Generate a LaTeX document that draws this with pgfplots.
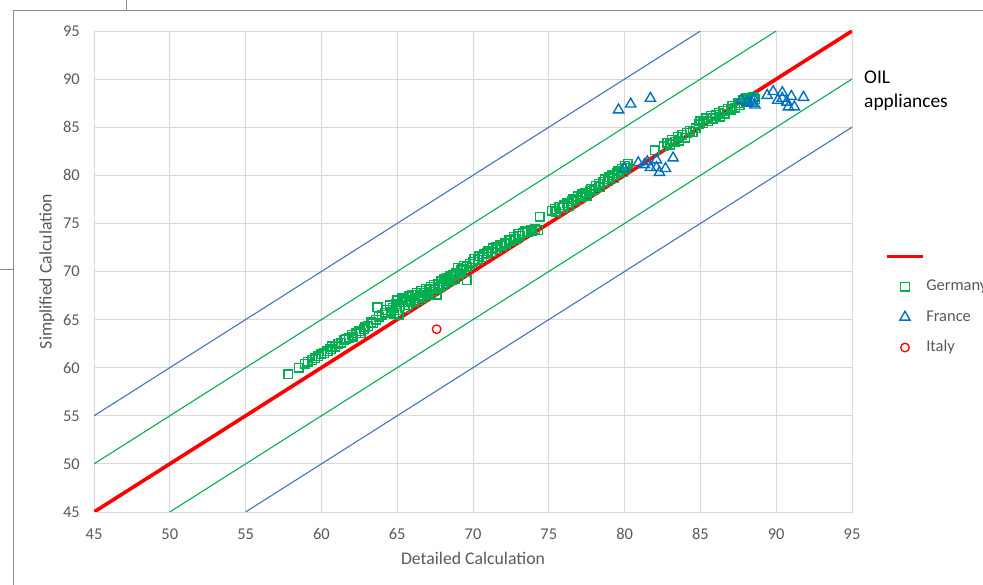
\documentclass[border=0pt]{standalone}
\usepackage{pgfplots}
\pgfplotsset{compat=1.18}
\usepackage{fontspec}
\setmainfont{Carlito}
\definecolor{gridc}{HTML}{D9D9D9}
\definecolor{txt}{HTML}{595959}
\definecolor{xlgreen}{HTML}{00B050}
\definecolor{xlblue}{HTML}{4472C4}
\definecolor{tri}{HTML}{0070C0}
\definecolor{framec}{HTML}{8C8C8C}
\pgfplotsset{
  linelegend/.style={legend image code/.code={\draw[##1] (0bp,0bp) -- (36bp,0bp);}},
  marklegend/.style={legend image code/.code={\draw[mark repeat=2,mark phase=2,##1] plot coordinates {(0bp,0bp) (18bp,0bp) (36bp,0bp)};}},
}
\begin{document}
\begin{tikzpicture}[x=1bp,y=1bp]
\useasboundingbox (0,0) rectangle (983,585);
\draw[framec, line width=1bp] (13,0) -- (13,574) -- (983,574);
\draw[framec, line width=1bp] (126,574) -- (126,585);
\draw[framec, line width=1bp] (0,315) -- (13,315);
\begin{axis}[
  at={(94bp,73bp)}, anchor=south west,
  scale only axis, width=758bp, height=481bp,
  xmin=45, xmax=95, ymin=45, ymax=95,
  xtick={45,50,...,95}, ytick={45,50,...,95},
  grid=major, major grid style={gridc, line width=0.8bp},
  axis line style={gridc, line width=0.8bp},
  major tick length=0pt,
  /pgf/number format/assume math mode=true,
  ticklabel style={font=\fontsize{16.5}{16.5}\selectfont, text=txt, inner sep=0pt},
  xticklabel style={anchor=center, yshift=-22bp},
  yticklabel style={anchor=east, xshift=-14bp},
  xlabel={Detailed Calculation}, ylabel={Simplified Calculation},
  label style={font=\fontsize{17.8}{17.8}\selectfont, text=txt},
  xlabel style={at={(axis description cs:0.5,-0.0956)}, anchor=center},
  ylabel style={at={(axis description cs:-0.062,0.5)}, anchor=center},
  legend cell align=left,
  legend style={draw=none, fill=none, at={(axis description cs:1.0435,0.549)}, anchor=north west,
    font=\fontsize{16.5}{16.5}\selectfont, text=txt, row sep=13.3bp, inner sep=0pt,
    nodes={inner sep=1.5bp, text height=11bp, text depth=3bp}},
]
\addplot[forget plot, xlblue, line width=1.1bp] coordinates {(45,55) (85,95)};
\addplot[forget plot, xlgreen, line width=1.1bp] coordinates {(45,50) (90,95)};
\addplot[forget plot, xlgreen, line width=1.1bp] coordinates {(50,45) (95,90)};
\addplot[forget plot, xlblue, line width=1.1bp] coordinates {(55,45) (95,85)};
\addplot[red, line width=3.6bp, linelegend] coordinates {(45,45) (95,95)};
\addlegendentry{\phantom{x}}
\addplot[only marks, mark=square, mark size=4.3bp, mark options={xlgreen, line width=1.5bp}, marklegend]
  table {
x y
57.8 59.3
58.5 60.0
58.9 60.4
59.1 60.6
59.4 60.8
59.6 61.0
59.8 61.2
60.0 61.4
60.2 61.5
60.4 61.7
60.6 61.9
60.7 62.2
60.9 62.2
61.1 62.5
61.3 62.6
61.5 62.9
61.6 63.0
61.8 63.1
62.0 63.4
62.1 63.2
62.3 63.6
62.5 63.8
62.6 63.6
62.8 64.0
62.9 64.2
63.1 64.3
63.3 64.7
63.4 64.6
63.6 65.0
63.7 66.3
63.8 65.3
64.0 65.5
64.2 65.7
64.3 66.0
64.5 66.5
64.6 65.8
64.7 66.2
64.8 65.6
64.9 66.6
65.0 67.0
65.0 66.0
65.1 65.5
65.2 66.4
65.3 67.2
65.4 66.8
65.5 66.2
65.6 67.0
65.7 66.5
65.8 67.4
65.9 66.9
66.0 67.6
66.1 66.8
66.2 67.2
66.3 67.8
66.4 67.0
66.5 67.5
66.6 68.0
66.7 67.3
66.8 67.8
66.9 68.2
67.0 67.6
67.1 68.1
67.2 68.4
67.3 67.9
67.4 68.6
67.5 68.2
67.6 67.6
67.7 68.7
67.8 68.4
67.9 69.0
68.0 68.6
68.1 69.2
68.2 68.8
68.3 69.3
68.4 69.0
68.5 69.5
68.6 69.1
68.7 69.6
68.8 69.2
68.9 69.8
69.0 70.4
69.1 69.7
69.2 70.1
69.3 70.3
69.4 70.6
69.6 69.1
69.6 70.5
69.8 70.8
70.0 71.0
70.1 71.3
70.3 71.2
70.4 71.6
70.6 71.5
70.7 71.8
70.9 71.9
71.0 72.1
71.2 72.0
71.3 72.4
71.5 72.5
71.6 72.3
71.8 72.8
71.9 72.7
72.1 73.0
72.2 72.9
72.4 73.3
72.5 73.2
72.7 73.6
72.8 73.4
73.0 73.9
73.1 73.7
73.3 74.0
73.4 74.2
73.6 74.1
73.8 74.3
73.9 74.2
74.1 74.4
74.3 74.3
74.4 75.7
75.2 76.3
75.4 76.5
75.5 76.2
75.7 76.7
75.9 76.6
76.0 76.9
76.2 77.1
76.3 76.8
76.5 77.3
76.6 77.5
76.8 77.4
76.9 77.8
77.1 77.7
77.2 78.0
77.4 78.2
77.5 77.9
77.7 78.4
77.8 78.6
78.0 78.5
78.1 78.9
78.3 79.1
78.4 78.8
78.6 79.3
78.7 79.6
78.9 79.4
79.0 79.8
79.2 80.0
79.3 79.7
79.5 80.2
79.6 80.4
79.8 80.7
79.9 80.3
80.0 81.0
80.1 80.8
80.2 81.2
82.0 82.6
82.6 83.0
82.8 83.4
83.0 83.2
83.1 83.7
83.3 83.5
83.5 84.0
83.6 83.6
83.8 84.2
84.0 83.9
84.1 84.4
84.3 84.6
84.5 84.5
84.7 84.9
84.9 85.3
85.0 85.6
85.2 85.4
85.4 85.9
85.5 85.6
85.7 86.2
85.8 85.9
86.0 86.3
86.2 86.5
86.3 86.1
86.5 86.7
86.6 86.4
86.8 86.9
87.0 86.8
87.1 87.2
87.3 87.0
87.5 87.5
87.6 87.3
87.8 87.8
88.0 87.6
88.1 88.0
88.3 87.8
88.5 88.1
88.6 87.9
};
\addlegendentry{Germany}
\addplot[only marks, mark=triangle, mark size=5.9bp, mark options={tri, line width=1.4bp}, marklegend]
  table {
x y
79.6 86.8
80.4 87.4
81.7 88.0
80.0 80.7
80.9 81.3
81.3 81.1
81.5 81.4
82.1 81.6
81.7 80.8
82.1 80.8
82.3 80.3
82.7 80.7
83.2 81.8
87.7 87.8
88.1 87.6
88.4 87.5
88.5 88.0
88.6 87.3
89.4 88.3
89.8 88.7
90.1 87.8
90.4 88.6
90.4 88.0
90.7 87.6
90.8 87.1
91.2 87.1
91.0 88.2
91.8 88.1
};
\addlegendentry{France}
\addplot[only marks, mark=o, mark size=4.3bp, mark options={red, line width=1.3bp}, marklegend]
  table {
x y
67.6 64.0
};
\addlegendentry{Italy}
\end{axis}
\node[anchor=north west, align=left, inner sep=0pt, font=\fontsize{19.5}{24}\selectfont] at (864,514) {OIL\\appliances};
\end{tikzpicture}
\end{document}
